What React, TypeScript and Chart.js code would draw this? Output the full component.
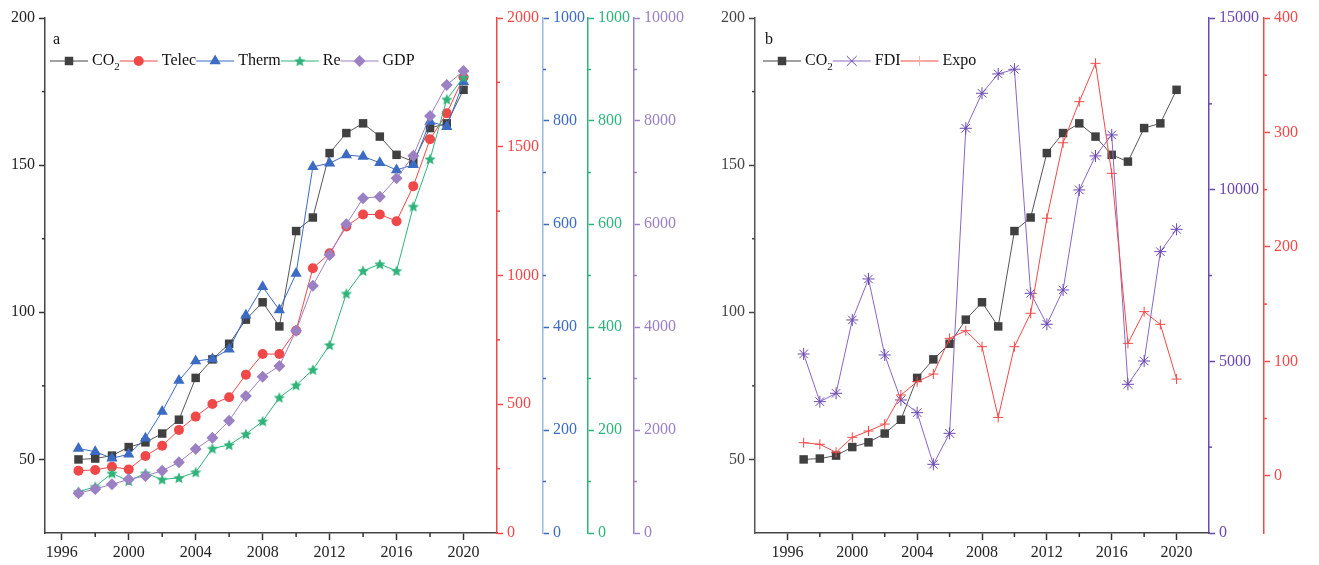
import React, { useEffect, useRef } from "react";
import { Chart, registerables } from "chart.js";
Chart.register(...registerables);

const FONT = "'Liberation Serif', 'Times New Roman', serif";

// ---------- data ----------
const years = [1997, 1998, 1999, 2000, 2001, 2002, 2003, 2004, 2005, 2006, 2007, 2008, 2009, 2010, 2011, 2012, 2013, 2014, 2015, 2016, 2017, 2018, 2019, 2020];
const co2 = [50.0, 50.3, 51.3, 54.2, 55.8, 58.8, 63.5, 77.7, 84.0, 89.3, 97.5, 103.4, 95.2, 127.6, 132.2, 154.1, 160.9, 164.2, 159.7, 153.5, 151.2, 162.6, 164.2, 175.6];
const telec = [242, 245, 257, 247, 299, 339, 400, 452, 501, 527, 615, 695, 695, 786, 1028, 1086, 1190, 1237, 1237, 1211, 1347, 1529, 1630, 1770];
const therm = [164, 158, 145, 153, 184, 236, 296, 334, 338, 357, 423, 478, 433, 504, 711, 718, 734, 731, 719, 705, 715, 799, 789, 876];
const re = [80, 90, 116, 101, 116, 104, 107, 118, 164, 171, 192, 217, 263, 287, 317, 365, 465, 509, 522, 509, 634, 726, 842, 885];
const gdp = [771, 854, 945, 1042, 1107, 1210, 1372, 1631, 1851, 2181, 2660, 3035, 3243, 3929, 4803, 5399, 5995, 6500, 6531, 6888, 7327, 8098, 8700, 8972];
const fdi = [5214, 3825, 4069, 6205, 7399, 5185, 3874, 3505, 2001, 2903, 11788, 12808, 13371, 13507, 6982, 6079, 7079, 9992, 10982, 11594, 4331, 5010, 8195, 8846];
const expo = [28.9, 27.5, 20.5, 33.6, 39.1, 45.2, 70.6, 82.2, 88.9, 120.1, 126.8, 112.8, 51.0, 112.8, 142.0, 225.0, 291.0, 326.9, 360.4, 264.3, 115.7, 143.4, 132.3, 84.5];

// ---------- tick labels ----------
const xMajor = [1996, 2000, 2004, 2008, 2012, 2016, 2020];
const xMinor = [1998, 2002, 2006, 2010, 2014, 2018];
const leftMajor = [50, 100, 150, 200];
const leftMinor = [75, 125, 175];
const telecMajor = [0, 500, 1000, 1500, 2000];
const telecMinor = [250, 750, 1250, 1750];
const thermMajor = [0, 200, 400, 600, 800, 1000];
const thermMinor = [100, 300, 500, 700, 900];
const reMajor = [0, 200, 400, 600, 800, 1000];
const reMinor = [100, 300, 500, 700, 900];
const gdpMajor = [0, 2000, 4000, 6000, 8000, 10000];
const gdpMinor = [1000, 3000, 5000, 7000, 9000];
const fdiMajor = [0, 5000, 10000, 15000];
const fdiMinor = [2500, 7500, 12500];
const expoMajor = [0, 100, 200, 300, 400];
const expoMinor = [50, 150, 250, 350];

// ---------- colors ----------
const C_CO2 = "#404040";
const C_TELEC = "#f04848";
const C_THERM = "#3b6bc3";
const C_THERM_AX = "#9db8dc";
const C_RE = "#2fb37a";
const C_GDP = "#9b80c4";
const C_FDI = "#6a48b0";
const C_FDI_LINE = "#8a66c4";
const C_EXPO = "#f44848";

function pts(arr: number[]) {
  return years.map((y, i) => ({ x: y, y: arr[i] }));
}

function starImage(color: string, r: number) {
  const size = Math.ceil(r * 2 + 2);
  const c = document.createElement("canvas");
  c.width = size;
  c.height = size;
  const g = c.getContext("2d")!;
  const cx = size / 2, cy = size / 2 + 0.5;
  g.beginPath();
  for (let i = 0; i < 10; i++) {
    const rad = i % 2 === 0 ? r : r * 0.45;
    const a = -Math.PI / 2 + (i * Math.PI) / 5;
    const px = cx + rad * Math.cos(a), py = cy + rad * Math.sin(a);
    if (i === 0) g.moveTo(px, py);
    else g.lineTo(px, py);
  }
  g.closePath();
  g.fillStyle = color;
  g.fill();
  return c;
}

function drawMarker(ctx: CanvasRenderingContext2D, style: any, x: number, y: number, r: number, color: string) {
  ctx.save();
  ctx.fillStyle = color;
  ctx.strokeStyle = color;
  ctx.lineWidth = 1;
  if (typeof style !== "string") {
    ctx.drawImage(style, x - style.width / 2, y - style.height / 2);
  } else if (style === "rect") {
    const h = r * Math.SQRT1_2;
    ctx.fillRect(x - h, y - h, 2 * h, 2 * h);
  } else if (style === "circle") {
    ctx.beginPath();
    ctx.arc(x, y, r, 0, Math.PI * 2);
    ctx.fill();
  } else if (style === "triangle") {
    ctx.beginPath();
    for (let i = 0; i < 3; i++) {
      const a = (i * 2 * Math.PI) / 3;
      const px = x + Math.sin(a) * r, py = y - Math.cos(a) * r;
      if (i === 0) ctx.moveTo(px, py);
      else ctx.lineTo(px, py);
    }
    ctx.closePath();
    ctx.fill();
  } else if (style === "rectRot") {
    ctx.beginPath();
    ctx.moveTo(x, y - r);
    ctx.lineTo(x + r, y);
    ctx.lineTo(x, y + r);
    ctx.lineTo(x - r, y);
    ctx.closePath();
    ctx.fill();
  } else if (style === "crossRot") {
    const d = r * Math.SQRT1_2;
    ctx.beginPath();
    ctx.moveTo(x - d, y - d);
    ctx.lineTo(x + d, y + d);
    ctx.moveTo(x - d, y + d);
    ctx.lineTo(x + d, y - d);
    ctx.stroke();
  } else if (style === "cross") {
    ctx.beginPath();
    ctx.moveTo(x - r, y);
    ctx.lineTo(x + r, y);
    ctx.moveTo(x, y - r);
    ctx.lineTo(x, y + r);
    ctx.stroke();
  }
  ctx.restore();
}

type LegendItem = { label: string; sub?: string; color: string; line: string; style: any; r: number };

function legendPlugin(id: string, letter: string, letterX: number, x0: number, y0: number, items: LegendItem[]) {
  return {
    id,
    afterDraw(chart: any) {
      const ctx: CanvasRenderingContext2D = chart.ctx;
      ctx.save();
      ctx.fillStyle = "#111";
      ctx.font = `16px ${FONT}`;
      ctx.textBaseline = "middle";
      ctx.textAlign = "left";
      ctx.fillText(letter, letterX, 40);
      let x = x0;
      for (const it of items) {
        ctx.strokeStyle = it.line;
        ctx.lineWidth = 1;
        ctx.beginPath();
        ctx.moveTo(x, y0);
        ctx.lineTo(x + 38, y0);
        ctx.stroke();
        drawMarker(ctx, it.style, x + 19, y0, it.r, it.color);
        ctx.fillStyle = "#111";
        ctx.font = `16px ${FONT}`;
        ctx.textBaseline = "middle";
        const tx = x + 42;
        ctx.fillText(it.label, tx, y0);
        let w = ctx.measureText(it.label).width;
        if (it.sub) {
          ctx.font = `11px ${FONT}`;
          ctx.fillText(it.sub, tx + w, y0 + 6);
          w += ctx.measureText(it.sub).width;
        }
        x = tx + w;
      }
      ctx.restore();
    },
  };
}

type MinorSpec = { id: string; values: number[]; color: string; len: number };

function minorPlugin(id: string, list: MinorSpec[]) {
  return {
    id,
    afterDraw(chart: any) {
      const ctx: CanvasRenderingContext2D = chart.ctx;
      ctx.save();
      for (const m of list) {
        const s = chart.scales[m.id];
        if (!s) continue;
        ctx.strokeStyle = m.color;
        ctx.lineWidth = 1.5;
        for (const v of m.values) {
          const p = s.getPixelForValue(v);
          ctx.beginPath();
          if (s.position === "left") {
            ctx.moveTo(s.right, p);
            ctx.lineTo(s.right - m.len, p);
          } else if (s.position === "right") {
            ctx.moveTo(s.left, p);
            ctx.lineTo(s.left + m.len, p);
          } else {
            ctx.moveTo(p, s.top);
            ctx.lineTo(p, s.top + m.len);
          }
          ctx.stroke();
        }
      }
      ctx.restore();
    },
  };
}

function yScale(pos: string, weight: number, min: number, max: number, major: number[], width: number, color: string, lineColor: string, labelColor: string) {
  return {
    type: "linear",
    position: pos,
    weight,
    min,
    max,
    afterBuildTicks: (s: any) => {
      s.ticks = major.map((v) => ({ value: v }));
    },
    afterFit: (s: any) => {
      s.width = width;
    },
    grid: { display: true, drawOnChartArea: false, drawTicks: true, tickLength: 6, tickColor: color, tickWidth: 1.5 },
    border: { display: true, color: lineColor, width: 1.5 },
    ticks: {
      color: labelColor,
      font: { family: FONT, size: 16 },
      padding: 4,
      autoSkip: false,
      callback: (v: any) => String(v),
    },
  };
}

function xScale(min: number, max: number) {
  return {
    type: "linear",
    position: "bottom",
    min,
    max,
    afterBuildTicks: (s: any) => {
      s.ticks = xMajor.map((v) => ({ value: v }));
    },
    afterFit: (s: any) => {
      s.height = 32;
    },
    grid: { display: true, drawOnChartArea: false, drawTicks: true, tickLength: 7, tickColor: "#333", tickWidth: 1.5 },
    border: { display: true, color: "#444", width: 1.5 },
    ticks: {
      color: "#222",
      font: { family: FONT, size: 16 },
      padding: 3,
      autoSkip: false,
      maxRotation: 0,
      callback: (v: any) => String(v),
    },
  };
}

function lineDs(label: string, arr: number[], axis: string, line: string, marker: string, style: any, r: number, order: number, borderW = 0) {
  return {
    label,
    data: pts(arr),
    yAxisID: axis,
    xAxisID: "x",
    borderColor: line,
    borderWidth: 1,
    pointStyle: style,
    pointRadius: r,
    pointHoverRadius: r,
    pointBackgroundColor: marker,
    pointBorderColor: marker,
    pointBorderWidth: borderW,
    tension: 0,
    order,
    clip: false as any,
  };
}

export default function App() {
  const refA = useRef<HTMLCanvasElement>(null);
  const refB = useRef<HTMLCanvasElement>(null);

  useEffect(() => {
    const reStar = starImage(C_RE, 6);
    const common = {
      responsive: false,
      animation: false,
      devicePixelRatio: 1,
      events: [],
      plugins: { legend: { display: false }, tooltip: { enabled: false } },
    };

    const chartA = new Chart(refA.current!, {
      type: "line",
      data: {
        datasets: [
          lineDs("CO2", co2, "y", "#555", C_CO2, "rect", 6, 4),
          lineDs("Telec", telec, "yTelec", C_TELEC, C_TELEC, "circle", 5, 3),
          lineDs("Therm", therm, "yTherm", C_THERM, C_THERM, "triangle", 6.5, 2),
          lineDs("Re", re, "yRe", C_RE, C_RE, reStar, 6, 1),
          lineDs("GDP", gdp, "yGdp", C_GDP, C_GDP, "rectRot", 6, 0),
        ] as any,
      },
      options: {
        ...common,
        layout: { padding: { top: 18, left: 0, right: 0, bottom: 0 } },
        scales: {
          x: xScale(1995, 2022),
          y: yScale("left", 0, 25, 200, leftMajor, 45, "#333", "#444", "#222"),
          yTelec: yScale("right", 1, 0, 2000, telecMajor, 46, C_TELEC, C_TELEC, C_TELEC),
          yTherm: yScale("right", 2, 0, 1000, thermMajor, 45, C_THERM, C_THERM_AX, C_THERM),
          yRe: yScale("right", 3, 0, 1000, reMajor, 46, C_RE, C_RE, C_RE),
          yGdp: yScale("right", 4, 0, 10000, gdpMajor, 66, C_GDP, C_GDP, C_GDP),
        },
      } as any,
      plugins: [
        minorPlugin("minorA", [
          { id: "x", values: xMinor, color: "#333", len: 4 },
          { id: "y", values: leftMinor, color: "#333", len: 3 },
          { id: "yTelec", values: telecMinor, color: C_TELEC, len: 3 },
          { id: "yTherm", values: thermMinor, color: C_THERM, len: 3 },
          { id: "yRe", values: reMinor, color: C_RE, len: 3 },
          { id: "yGdp", values: gdpMinor, color: C_GDP, len: 3 },
        ]),
        legendPlugin("legendA", "a", 53, 50, 61, [
          { label: "CO", sub: "2", color: C_CO2, line: "#444", style: "rect", r: 6 },
          { label: "Telec", color: C_TELEC, line: C_TELEC, style: "circle", r: 5 },
          { label: "Therm", color: C_THERM, line: C_THERM, style: "triangle", r: 6.5 },
          { label: "Re", color: C_RE, line: C_RE, style: reStar, r: 6 },
          { label: "GDP", color: C_GDP, line: C_GDP, style: "rectRot", r: 6 },
        ]),
      ],
    } as any);

    const chartB = new Chart(refB.current!, {
      type: "line",
      data: {
        datasets: [
          lineDs("CO2", co2, "y", "#555", C_CO2, "rect", 6, 2),
          lineDs("FDI", fdi, "yFdi", C_FDI_LINE, C_FDI, "star", 6, 1, 1),
          lineDs("Expo", expo, "yExpo", C_EXPO, C_EXPO, "cross", 5, 0, 1),
        ] as any,
      },
      options: {
        ...common,
        layout: { padding: { top: 18, left: 0, right: 0, bottom: 0 } },
        scales: {
          x: xScale(1994, 2022),
          y: yScale("left", 0, 25, 200, leftMajor, 55, "#444", "#555", "#444"),
          yFdi: yScale("right", 1, 0, 15000, fdiMajor, 55, C_FDI, C_FDI, C_FDI),
          yExpo: yScale("right", 2, -50, 400, expoMajor, 55, C_EXPO, C_EXPO, C_EXPO),
        },
      } as any,
      plugins: [
        minorPlugin("minorB", [
          { id: "x", values: xMinor, color: "#333", len: 4 },
          { id: "y", values: leftMinor, color: "#444", len: 3 },
          { id: "yFdi", values: fdiMinor, color: C_FDI, len: 3 },
          { id: "yExpo", values: expoMinor, color: C_EXPO, len: 3 },
        ]),
        legendPlugin("legendB", "b", 65, 63, 61, [
          { label: "CO", sub: "2", color: C_CO2, line: "#444", style: "rect", r: 6 },
          { label: "FDI", color: C_FDI, line: C_FDI_LINE, style: "crossRot", r: 7 },
          { label: "Expo", color: "#ffb0b0", line: C_EXPO, style: "cross", r: 5 },
        ]),
      ],
    } as any);

    return () => {
      chartA.destroy();
      chartB.destroy();
    };
  }, []);

  return (
    <div style={{ position: "fixed", left: 0, top: 0, width: 1319, height: 565, background: "#fff" }}>
      <canvas ref={refA} width={700} height={565} style={{ position: "absolute", left: 0, top: 0, width: 700, height: 565 }} />
      <canvas ref={refB} width={619} height={565} style={{ position: "absolute", left: 700, top: 0, width: 619, height: 565 }} />
    </div>
  );
}
